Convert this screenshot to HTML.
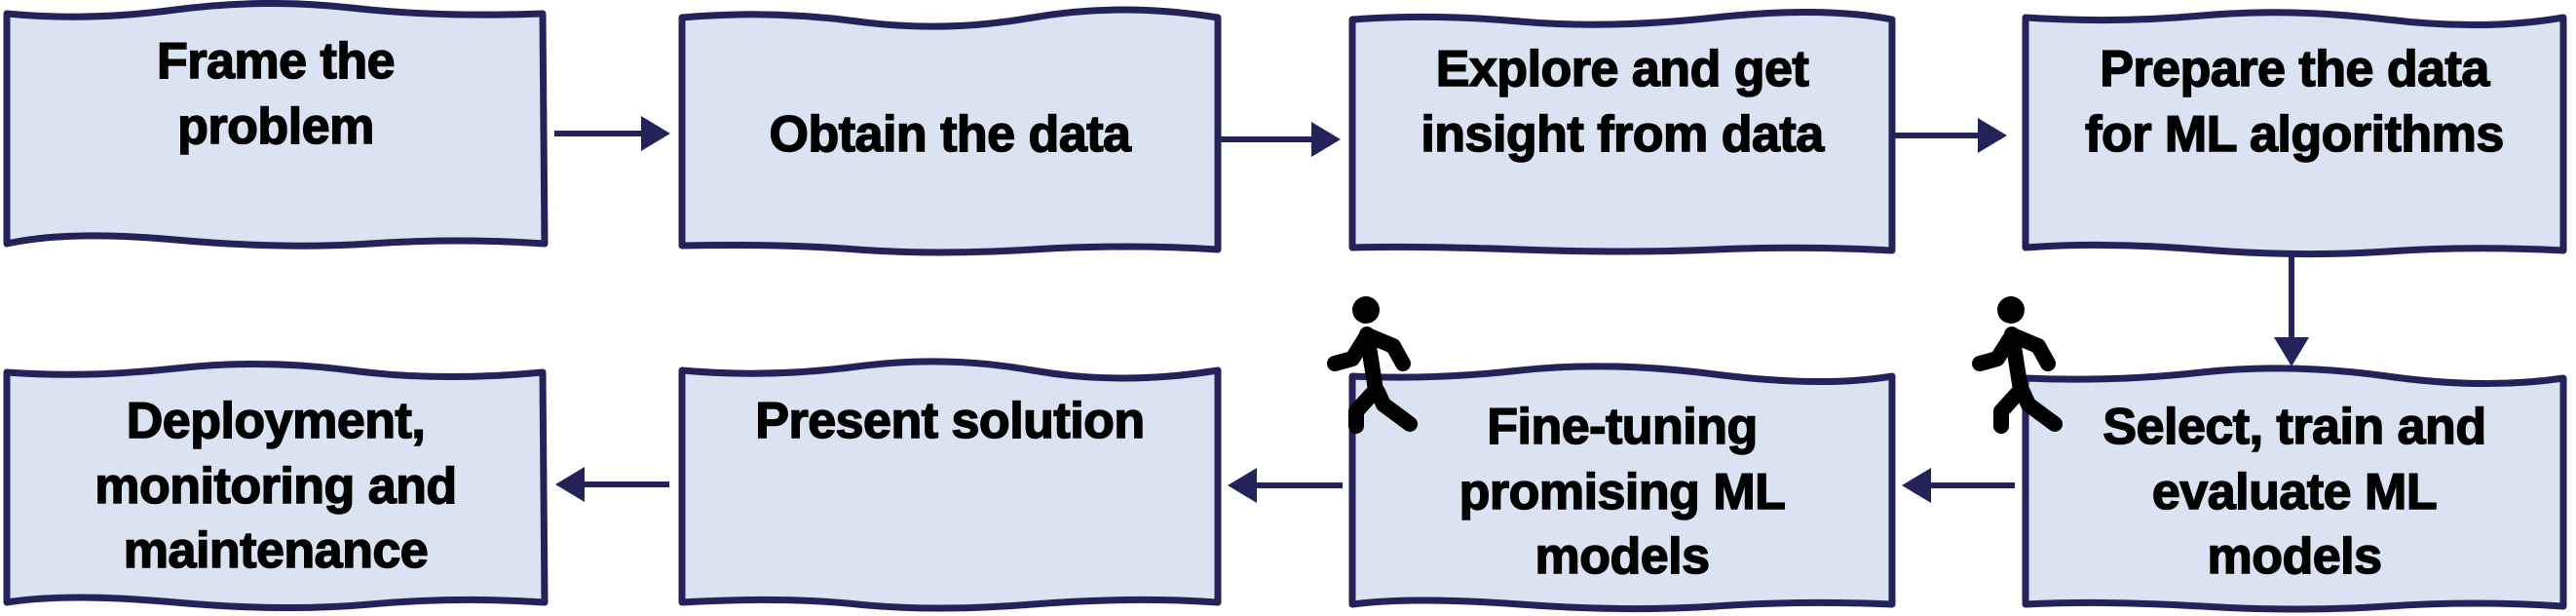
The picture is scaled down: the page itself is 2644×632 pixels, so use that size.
<!DOCTYPE html>
<html><head><style>
html,body{margin:0;padding:0;background:#fff;width:2644px;height:632px;overflow:hidden}
text{font-family:"Liberation Sans",sans-serif;font-weight:bold;font-size:52px;fill:#000;stroke:#000;stroke-width:1.5px;text-anchor:middle;letter-spacing:-0.5px}
</style></head><body>
<svg width="2644" height="632" viewBox="0 0 2644 632" xmlns="http://www.w3.org/2000/svg">
<defs>
<marker id="ah" markerWidth="6" markerHeight="6" refX="4" refY="3" orient="auto" markerUnits="strokeWidth">
<path d="M0,0 L5,3 L0,6 Z" fill="#25225a"/></marker>
</defs>
<g fill="#dbe3f2" stroke="#25225a" stroke-width="7" stroke-linejoin="round">
<path d="M7,14 Q90,22 180,10 T360,8 T557,14 L559,250 Q470,244 380,250 T180,246 T7,250 Z"/>
<path d="M700,18 Q790,10 880,22 T1060,18 T1250,18 L1250,256 Q1160,250 1060,256 T880,256 T700,252 Z"/>
<path d="M1388,20 Q1470,14 1560,22 T1760,18 T1942,20 L1942,257 Q1850,252 1760,256 T1560,256 T1388,254 Z"/>
<path d="M2079,18 Q2170,24 2260,16 T2450,20 T2631,18 L2631,257 Q2540,252 2450,258 T2260,256 T2079,254 Z"/>
<path d="M7,382 Q90,388 180,378 T360,380 T557,382 L559,618 Q470,612 380,620 T180,618 T7,618 Z"/>
<path d="M700,380 Q790,388 880,376 T1060,380 T1250,380 L1250,618 Q1160,612 1060,620 T880,620 T700,618 Z"/>
<path d="M1388,386 Q1470,390 1560,380 T1760,384 T1942,386 L1942,620 Q1850,616 1760,622 T1560,620 T1388,620 Z"/>
<path d="M2079,388 Q2170,392 2260,382 T2450,386 T2631,388 L2631,622 Q2540,616 2450,622 T2260,622 T2079,620 Z"/>
</g>
<g stroke="#25225a" stroke-width="6" fill="none" marker-end="url(#ah)">
<line x1="569" y1="137" x2="682" y2="137"/>
<line x1="1252" y1="143" x2="1370" y2="143"/>
<line x1="1944" y1="139" x2="2054" y2="139"/>
<line x1="2352" y1="258" x2="2352" y2="370"/>
<line x1="2068" y1="498" x2="1958" y2="498"/>
<line x1="1378" y1="498" x2="1266" y2="498"/>
<line x1="687" y1="497" x2="576" y2="497"/>
</g>
<g>
<text x="283" y="80">Frame the</text><text x="283" y="147">problem</text>
<text x="975" y="155">Obtain the data</text>
<text x="1665" y="88">Explore and get</text><text x="1665" y="155">insight from data</text>
<text x="2355" y="88">Prepare the data</text><text x="2355" y="155">for ML algorithms</text>
<text x="283" y="449">Deployment,</text><text x="283" y="516">monitoring and</text><text x="283" y="582">maintenance</text>
<text x="975" y="449">Present solution</text>
<text x="1665" y="455">Fine-tuning</text><text x="1665" y="522">promising ML</text><text x="1665" y="588">models</text>
<text x="2355" y="455">Select, train and</text><text x="2355" y="522">evaluate ML</text><text x="2355" y="588">models</text>
</g>
<g id="w" stroke="#000" stroke-width="16" stroke-linecap="round" stroke-linejoin="round" fill="none">
<circle cx="1402" cy="318" r="14" fill="#000" stroke="none"/>
<path d="M1403,343 L1412,400"/>
<path d="M1402,346 L1388,368 L1370,373"/>
<path d="M1406,345 L1430,355 L1440,373"/>
<path d="M1412,400 L1392,422 L1392,437"/>
<path d="M1414,402 L1420,415 L1447,435"/>
</g>
<use href="#w" transform="translate(662,0)"/>
</svg>
</body></html>
